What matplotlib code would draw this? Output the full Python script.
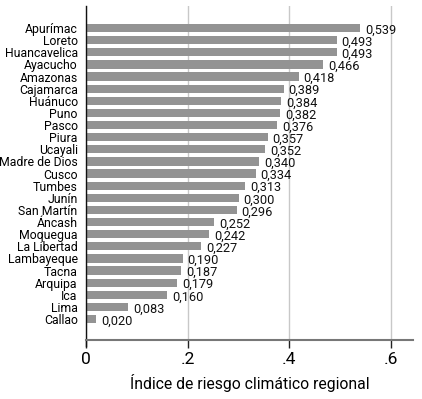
import matplotlib
matplotlib.use("Agg")
import matplotlib.pyplot as plt

regions = ["Apurímac", "Loreto", "Huancavelica", "Ayacucho", "Amazonas", "Cajamarca",
           "Huánuco", "Puno", "Pasco", "Piura", "Ucayali", "Madre de Dios", "Cusco",
           "Tumbes", "Junín", "San Martín", "Áncash", "Moquegua", "La Libertad",
           "Lambayeque", "Tacna", "Arquipa", "Ica", "Lima", "Callao"]
values = [0.539, 0.493, 0.493, 0.466, 0.418, 0.389, 0.384, 0.382, 0.376, 0.357,
          0.352, 0.340, 0.334, 0.313, 0.300, 0.296, 0.252, 0.242, 0.227, 0.190,
          0.187, 0.179, 0.160, 0.083, 0.020]
xticks = [0, 0.2, 0.4, 0.6]
xticklabels = ["0", ".2", ".4", ".6"]
xlabel = "Índice de riesgo climático regional"

plt.rcParams['font.family'] = ['Roboto', 'DejaVu Sans']

fig = plt.figure(figsize=(4.22, 3.99), dpi=100)
ax = fig.add_axes([0.2038, 0.149, 0.7749, 0.836])

pos = list(range(len(regions)))
ax.barh(pos, values, height=0.68, color="#939393", zorder=2)
for p, v in zip(pos, values):
    ax.annotate(f"{v:.3f}".replace(".", ","), (v, p), xytext=(3.5, -1.5),
                textcoords="offset points", ha="left", va="center",
                fontsize=9.2, color="#111111", zorder=3)

ax.set_xlim(0, 0.643)
ax.set_ylim(len(regions) - 1 + 1.69, -1.82)
ax.set_yticks(pos)
ax.set_yticklabels(regions, fontsize=8.8)
ax.tick_params(axis="y", length=0, pad=6)
ax.set_xticks(xticks)
ax.set_xticklabels(xticklabels, fontsize=12.5)
ax.tick_params(axis="x", length=6, width=1, color="#222222", pad=3)
ax.grid(axis="x", color="#c8c8c8", linewidth=1, zorder=0)
ax.set_xlabel(xlabel, fontsize=11.3, labelpad=5)

for s in ["top", "right"]:
    ax.spines[s].set_visible(False)
ax.spines["left"].set_color("#111111")
ax.spines["left"].set_linewidth(1)
ax.spines["left"].set_bounds(len(regions) - 1 + 1.69 + 0.5, -1.82)
ax.spines["bottom"].set_color("#777777")
ax.spines["bottom"].set_linewidth(1.5)

fig.savefig("out.png", dpi=100)
